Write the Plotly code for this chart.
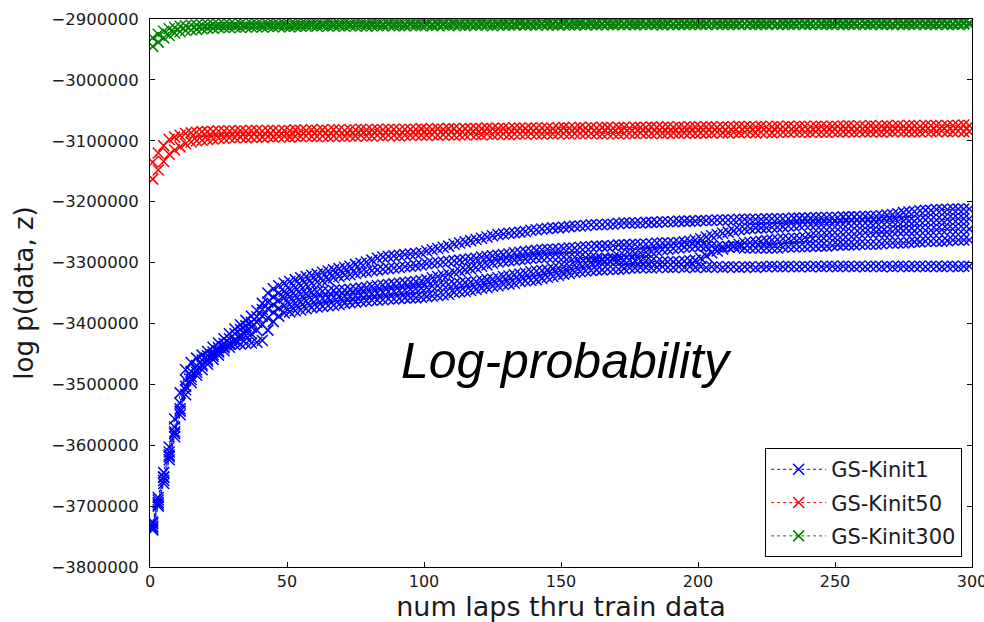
import plotly.graph_objects as go

# Laps at which the log-probability was recorded
laps = list(range(1, 300, 2))

# log p(data, z) per lap, stored in thousands
kinit1_run1 = [
    -3739, -3700, -3663, -3624, -3586, -3550, -3517, -3497, -3485, -3476,
    -3467, -3459, -3452, -3445, -3439, -3435, -3434, -3433, -3432, -3431,
    -3428, -3411, -3397, -3388, -3383, -3381, -3379, -3378, -3376, -3374,
    -3373, -3372, -3371, -3370, -3369, -3367, -3366, -3365, -3364, -3363,
    -3362, -3362, -3361, -3360, -3360, -3359, -3358, -3358, -3358, -3357,
    -3356, -3355, -3354, -3353, -3352, -3349, -3348, -3347, -3346, -3344,
    -3342, -3341, -3339, -3338, -3336, -3335, -3334, -3331, -3330, -3329,
    -3328, -3326, -3324, -3323, -3321, -3319, -3318, -3316, -3315, -3314,
    -3313, -3312, -3312, -3311, -3311, -3311, -3310, -3309, -3309, -3308,
    -3308, -3309, -3308, -3307, -3308, -3308, -3307, -3308, -3307, -3308,
    -3307, -3308, -3307, -3307, -3308, -3307, -3307, -3308, -3307, -3307,
    -3308, -3307, -3307, -3306, -3307, -3307, -3306, -3307, -3307, -3306,
    -3307, -3306, -3307, -3306, -3306, -3307, -3306, -3306, -3307, -3306,
    -3307, -3306, -3306, -3307, -3306, -3307, -3306, -3306, -3307, -3306,
    -3306, -3307, -3306, -3306, -3307, -3306, -3306, -3307, -3306, -3306,
]
kinit1_run2 = [
    -3726, -3686, -3645, -3603, -3557, -3514, -3476, -3464, -3457, -3452,
    -3446, -3439, -3432, -3425, -3417, -3409, -3402, -3395, -3388, -3379,
    -3367, -3350, -3343, -3338, -3334, -3331, -3328, -3325, -3323, -3321,
    -3319, -3316, -3314, -3312, -3310, -3308, -3306, -3303, -3301, -3299,
    -3296, -3293, -3291, -3290, -3289, -3288, -3287, -3286, -3285, -3284,
    -3281, -3279, -3277, -3275, -3273, -3270, -3268, -3266, -3264, -3262,
    -3260, -3258, -3256, -3254, -3253, -3252, -3251, -3250, -3249, -3247,
    -3246, -3245, -3244, -3243, -3243, -3242, -3241, -3240, -3240, -3239,
    -3238, -3238, -3238, -3237, -3237, -3236, -3235, -3235, -3235, -3235,
    -3234, -3234, -3234, -3233, -3233, -3233, -3232, -3232, -3232, -3232,
    -3231, -3231, -3231, -3230, -3230, -3230, -3230, -3229, -3229, -3229,
    -3229, -3229, -3228, -3228, -3228, -3228, -3228, -3227, -3227, -3227,
    -3227, -3226, -3226, -3226, -3226, -3226, -3225, -3225, -3225, -3225,
    -3224, -3224, -3224, -3223, -3222, -3221, -3220, -3218, -3217, -3216,
    -3215, -3214, -3214, -3213, -3213, -3213, -3212, -3212, -3212, -3212,
]
kinit1_run3 = [
    -3733, -3694, -3653, -3611, -3570, -3531, -3493, -3479, -3469, -3460,
    -3453, -3447, -3440, -3433, -3425, -3417, -3410, -3404, -3398, -3389,
    -3377, -3365, -3357, -3350, -3347, -3344, -3341, -3338, -3336, -3334,
    -3332, -3330, -3328, -3325, -3323, -3321, -3320, -3318, -3316, -3315,
    -3313, -3312, -3311, -3310, -3309, -3308, -3307, -3306, -3305, -3304,
    -3302, -3301, -3300, -3299, -3298, -3297, -3296, -3295, -3294, -3293,
    -3291, -3290, -3289, -3288, -3287, -3286, -3284, -3283, -3282, -3281,
    -3280, -3279, -3278, -3278, -3278, -3277, -3276, -3276, -3275, -3274,
    -3274, -3273, -3273, -3273, -3272, -3271, -3271, -3271, -3270, -3270,
    -3270, -3269, -3268, -3268, -3268, -3268, -3267, -3266, -3265, -3263,
    -3261, -3258, -3256, -3254, -3252, -3250, -3248, -3246, -3245, -3244,
    -3243, -3243, -3243, -3242, -3242, -3241, -3240, -3240, -3239, -3238,
    -3238, -3238, -3238, -3237, -3237, -3237, -3237, -3236, -3235, -3235,
    -3235, -3235, -3234, -3233, -3233, -3233, -3233, -3232, -3232, -3232,
    -3231, -3230, -3230, -3230, -3230, -3229, -3228, -3228, -3228, -3228,
]
kinit1_run4 = [
    -3729, -3690, -3652, -3616, -3578, -3540, -3503, -3487, -3476, -3467,
    -3459, -3451, -3445, -3438, -3432, -3426, -3419, -3413, -3406, -3398,
    -3388, -3376, -3369, -3362, -3358, -3356, -3354, -3352, -3351, -3349,
    -3348, -3347, -3347, -3346, -3345, -3345, -3344, -3343, -3342, -3341,
    -3339, -3338, -3337, -3336, -3335, -3334, -3333, -3332, -3331, -3330,
    -3328, -3325, -3323, -3321, -3319, -3316, -3314, -3312, -3310, -3308,
    -3306, -3304, -3301, -3299, -3298, -3297, -3296, -3295, -3294, -3293,
    -3292, -3292, -3291, -3291, -3291, -3291, -3291, -3291, -3291, -3292,
    -3292, -3293, -3294, -3294, -3295, -3296, -3296, -3296, -3297, -3297,
    -3297, -3298, -3299, -3299, -3299, -3299, -3299, -3298, -3297, -3296,
    -3293, -3289, -3284, -3281, -3278, -3274, -3272, -3270, -3268, -3267,
    -3266, -3265, -3264, -3263, -3262, -3261, -3261, -3260, -3260, -3259,
    -3257, -3256, -3256, -3255, -3255, -3255, -3254, -3253, -3253, -3252,
    -3251, -3251, -3250, -3250, -3250, -3249, -3248, -3248, -3248, -3248,
    -3247, -3247, -3247, -3246, -3246, -3245, -3245, -3245, -3245, -3245,
]
kinit1_run5 = [
    -3736, -3697, -3658, -3619, -3581, -3544, -3509, -3492, -3480, -3470,
    -3462, -3454, -3447, -3440, -3434, -3429, -3424, -3420, -3417, -3411,
    -3402, -3391, -3382, -3375, -3371, -3369, -3367, -3365, -3363, -3361,
    -3360, -3359, -3358, -3357, -3356, -3355, -3355, -3354, -3353, -3352,
    -3351, -3350, -3349, -3348, -3347, -3346, -3345, -3344, -3343, -3342,
    -3341, -3339, -3338, -3337, -3336, -3335, -3334, -3333, -3332, -3331,
    -3329, -3328, -3327, -3325, -3323, -3322, -3320, -3319, -3317, -3315,
    -3314, -3313, -3312, -3310, -3309, -3307, -3306, -3304, -3302, -3301,
    -3299, -3297, -3296, -3294, -3292, -3290, -3288, -3286, -3285, -3284,
    -3283, -3282, -3281, -3279, -3278, -3277, -3276, -3275, -3274, -3273,
    -3273, -3273, -3273, -3274, -3274, -3274, -3274, -3275, -3276, -3276,
    -3276, -3276, -3276, -3276, -3276, -3275, -3274, -3274, -3274, -3274,
    -3273, -3273, -3273, -3273, -3272, -3271, -3271, -3271, -3271, -3270,
    -3270, -3270, -3270, -3269, -3268, -3268, -3268, -3268, -3267, -3266,
    -3266, -3265, -3265, -3265, -3265, -3264, -3263, -3263, -3263, -3263,
]
kinit50_run1 = [
    -3135, -3120, -3108, -3098, -3094, -3091, -3088, -3087, -3086, -3085,
    -3085, -3085, -3084, -3084, -3084, -3084, -3083, -3084, -3083, -3083,
    -3084, -3083, -3083, -3084, -3083, -3083, -3082, -3083, -3083, -3082,
    -3083, -3082, -3083, -3082, -3082, -3083, -3082, -3082, -3081, -3082,
    -3082, -3081, -3082, -3081, -3081, -3082, -3081, -3081, -3081, -3080,
    -3081, -3081, -3080, -3081, -3080, -3080, -3081, -3080, -3080, -3080,
    -3080, -3079, -3080, -3080, -3079, -3080, -3079, -3079, -3080, -3079,
    -3079, -3079, -3079, -3080, -3079, -3078, -3079, -3079, -3078, -3079,
    -3078, -3079, -3078, -3078, -3079, -3078, -3078, -3079, -3078, -3078,
    -3078, -3077, -3078, -3078, -3077, -3078, -3077, -3078, -3077, -3077,
    -3078, -3077, -3077, -3078, -3077, -3077, -3077, -3076, -3077, -3077,
    -3077, -3076, -3077, -3077, -3076, -3077, -3076, -3077, -3076, -3076,
    -3077, -3076, -3076, -3077, -3076, -3076, -3076, -3075, -3076, -3076,
    -3076, -3075, -3076, -3076, -3075, -3076, -3075, -3076, -3075, -3075,
    -3076, -3075, -3075, -3075, -3076, -3075, -3075, -3075, -3074, -3075,
]
kinit50_run2 = [
    -3163, -3148, -3134, -3122, -3115, -3110, -3105, -3102, -3100, -3099,
    -3098, -3097, -3096, -3096, -3095, -3095, -3094, -3095, -3094, -3094,
    -3094, -3093, -3094, -3093, -3093, -3094, -3093, -3093, -3092, -3093,
    -3093, -3092, -3093, -3092, -3092, -3093, -3092, -3092, -3091, -3092,
    -3092, -3091, -3092, -3091, -3091, -3092, -3091, -3091, -3090, -3091,
    -3091, -3090, -3091, -3090, -3090, -3091, -3090, -3090, -3089, -3090,
    -3090, -3089, -3090, -3089, -3089, -3090, -3089, -3089, -3089, -3088,
    -3089, -3089, -3088, -3089, -3088, -3088, -3089, -3088, -3088, -3088,
    -3088, -3088, -3089, -3088, -3088, -3089, -3088, -3088, -3088, -3087,
    -3088, -3088, -3087, -3088, -3087, -3087, -3088, -3087, -3087, -3088,
    -3087, -3087, -3087, -3086, -3087, -3087, -3086, -3087, -3086, -3086,
    -3087, -3086, -3086, -3087, -3086, -3086, -3086, -3085, -3086, -3086,
    -3086, -3085, -3086, -3086, -3085, -3086, -3085, -3085, -3086, -3085,
    -3085, -3085, -3085, -3086, -3085, -3085, -3084, -3085, -3085, -3085,
    -3085, -3084, -3085, -3085, -3084, -3085, -3085, -3084, -3085, -3085,
]
kinit300_run1 = [
    -2931, -2925, -2920, -2916, -2914, -2912, -2911, -2910, -2910, -2910,
    -2909, -2909, -2909, -2909, -2909, -2909, -2908, -2909, -2908, -2908,
    -2909, -2908, -2908, -2908, -2908, -2909, -2908, -2908, -2908, -2907,
    -2908, -2908, -2907, -2908, -2908, -2907, -2908, -2907, -2907, -2908,
    -2907, -2907, -2908, -2907, -2907, -2907, -2908, -2907, -2907, -2907,
    -2907, -2908, -2907, -2907, -2907, -2906, -2907, -2907, -2907, -2907,
    -2906, -2907, -2907, -2907, -2906, -2907, -2907, -2906, -2907, -2907,
    -2906, -2907, -2906, -2907, -2907, -2906, -2907, -2906, -2906, -2907,
    -2906, -2906, -2907, -2906, -2906, -2906, -2907, -2906, -2906, -2906,
    -2907, -2906, -2906, -2906, -2906, -2907, -2906, -2906, -2906, -2906,
    -2906, -2906, -2907, -2906, -2906, -2906, -2906, -2906, -2907, -2906,
    -2906, -2906, -2906, -2906, -2907, -2906, -2906, -2906, -2906, -2906,
    -2906, -2907, -2906, -2906, -2906, -2906, -2906, -2906, -2906, -2907,
    -2906, -2906, -2906, -2906, -2906, -2907, -2906, -2906, -2906, -2906,
    -2906, -2906, -2906, -2906, -2906, -2906, -2907, -2906, -2906, -2906,
]
kinit300_run2 = [
    -2945, -2938, -2931, -2927, -2923, -2921, -2919, -2918, -2917, -2916,
    -2915, -2915, -2914, -2914, -2914, -2913, -2914, -2913, -2913, -2913,
    -2913, -2912, -2913, -2912, -2912, -2913, -2912, -2912, -2912, -2911,
    -2912, -2911, -2912, -2911, -2911, -2912, -2911, -2911, -2911, -2912,
    -2911, -2911, -2911, -2910, -2911, -2911, -2911, -2910, -2911, -2911,
    -2910, -2911, -2910, -2910, -2911, -2910, -2910, -2911, -2910, -2910,
    -2910, -2910, -2911, -2910, -2910, -2910, -2910, -2909, -2910, -2910,
    -2910, -2909, -2910, -2910, -2910, -2909, -2910, -2910, -2909, -2910,
    -2909, -2910, -2909, -2909, -2910, -2909, -2909, -2909, -2910, -2909,
    -2909, -2909, -2909, -2910, -2909, -2909, -2909, -2909, -2909, -2909,
    -2909, -2909, -2908, -2909, -2909, -2909, -2909, -2909, -2908, -2909,
    -2909, -2909, -2909, -2908, -2909, -2909, -2909, -2909, -2908, -2909,
    -2909, -2908, -2909, -2909, -2909, -2908, -2909, -2909, -2909, -2908,
    -2909, -2909, -2908, -2909, -2909, -2909, -2908, -2909, -2909, -2909,
    -2908, -2909, -2909, -2909, -2908, -2909, -2909, -2909, -2908, -2909,
]

series_names = ["GS-Kinit1", "GS-Kinit50", "GS-Kinit300"]
series_colors = ["#0000ff", "#ff0000", "#008000"]
series_runs = [
    [kinit1_run1, kinit1_run2, kinit1_run3, kinit1_run4, kinit1_run5],
    [kinit50_run1, kinit50_run2],
    [kinit300_run1, kinit300_run2],
]

x_ticks = [0, 50, 100, 150, 200, 250, 300]
y_ticks = [-3800000, -3700000, -3600000, -3500000, -3400000,
           -3300000, -3200000, -3100000, -3000000, -2900000]
y_tick_labels = ["−3800000", "−3700000", "−3600000", "−3500000", "−3400000",
                 "−3300000", "−3200000", "−3100000", "−3000000", "−2900000"]

THOUSAND = 1000
TEXT = "#1a1a1a"
FONT = "DejaVu Sans"

fig = go.Figure()
for name, color, runs in zip(series_names, series_colors, series_runs):
    for k, run in enumerate(runs):
        fig.add_trace(go.Scatter(
            x=laps,
            y=[v * THOUSAND for v in run],
            mode="lines+markers",
            name=name,
            legendgroup=name,
            showlegend=(k == 0),
            line=dict(color=color, width=1, dash="dot"),
            marker=dict(symbol="x-thin", size=11, color=color,
                        line=dict(width=1.5, color=color)),
            cliponaxis=True,
        ))

axis_common = dict(
    showgrid=False, zeroline=False, automargin=False,
    showline=True, linecolor="black", linewidth=1, mirror="ticks",
    ticks="inside", ticklen=5, tickwidth=1, tickcolor="black",
)

fig.update_layout(
    width=984, height=622,
    margin=dict(l=150, r=12, t=19, b=55),
    paper_bgcolor="white", plot_bgcolor="white",
    xaxis=dict(range=[0, 300], tickvals=x_ticks,
               ticklabeloverflow="allow",
               tickfont=dict(family=FONT, size=16, color=TEXT),
               title=dict(text="num laps thru train data",
                          font=dict(family=FONT, size=27, color=TEXT),
                          standoff=4),
               **axis_common),
    yaxis=dict(range=[-3800000, -2900000], tickvals=y_ticks,
               ticktext=y_tick_labels, ticklabelstandoff=7,
               tickfont=dict(family=FONT, size=16.5, color=TEXT),
               title=dict(text="log p(data, z)",
                          font=dict(family=FONT, size=26, color=TEXT),
                          standoff=10),
               **axis_common),
    legend=dict(x=0.988, y=0.018, xanchor="right", yanchor="bottom",
                bgcolor="white", bordercolor="black", borderwidth=1,
                font=dict(family=FONT, size=21, color=TEXT),
                itemwidth=55, tracegroupgap=3),
    showlegend=True,
    annotations=[dict(
        text="<i>Log-probability</i>", xref="paper", yref="paper",
        x=0.507, y=0.376, xanchor="center", yanchor="middle",
        showarrow=False,
        font=dict(family="Liberation Sans, Arial", size=50, color="black"),
    )],
)

fig.write_html("out.html")
